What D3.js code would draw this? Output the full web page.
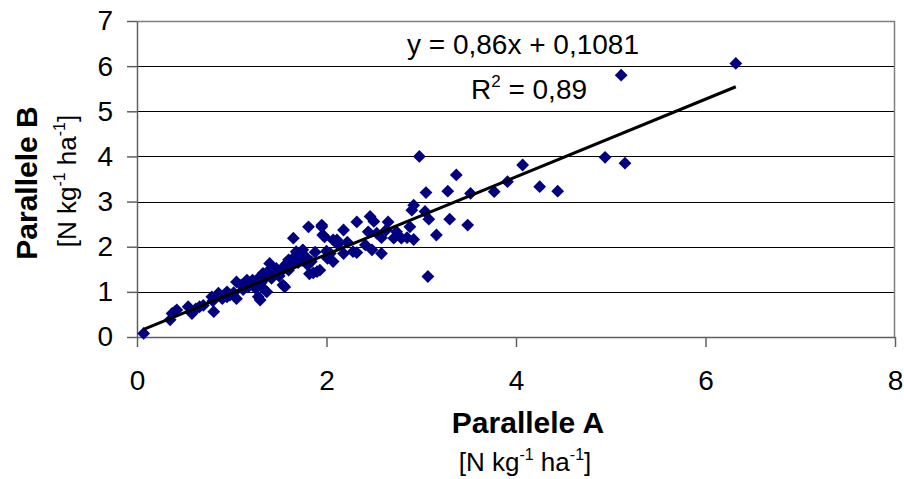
<!DOCTYPE html>
<html>
<head>
<meta charset="utf-8">
<script src="https://cdn.jsdelivr.net/npm/d3@7"></script>
<style>
  body { margin: 0; background: #fff; }
  svg text { font-family: Arial, "Liberation Sans", sans-serif; fill: #000; }
</style>
</head>
<body>
<div id="chart"></div>
<script>
/***** data *****/
// Parallele A (x) / Parallele B (y), N kg-1 ha-1
var parA = [0.07, 0.35, 0.37, 0.40, 0.42, 0.54, 0.58, 0.62, 0.66, 0.70,
  0.79, 0.81, 0.80, 0.84, 0.86, 0.90, 0.95, 0.95, 0.98, 1.02,
  1.05, 1.05, 1.10, 1.12, 1.16, 1.18, 1.22, 1.25, 1.28, 1.30,
  1.28, 1.31, 1.33, 1.33, 1.35, 1.37, 1.38, 1.40, 1.42, 1.45,
  1.47, 1.50, 1.52, 1.54, 1.56, 1.55, 1.58, 1.60, 1.60, 1.62,
  1.65, 1.65, 1.68, 1.70, 1.72, 1.75, 1.75, 1.78, 1.80, 1.81,
  1.82, 1.84, 1.86, 1.88, 1.90, 1.93, 1.95, 1.95, 1.96, 1.98,
  2.00, 2.01, 2.04, 2.07, 2.07, 2.11, 2.12, 2.18, 2.18, 2.22,
  2.28, 2.32, 2.32, 2.41, 2.46, 2.44, 2.48, 2.50, 2.53, 2.58,
  2.58, 2.65, 2.63, 2.71, 2.74, 2.79, 2.85, 2.88, 2.90, 2.92,
  2.92, 2.98, 3.05, 3.04, 3.08, 3.07, 3.16, 3.28, 3.30, 3.37,
  3.49, 3.52, 3.77, 3.91, 4.07, 4.25, 4.44, 4.94, 5.11, 5.15,
  6.32];
var parB = [0.08, 0.38, 0.52, 0.56, 0.60, 0.67, 0.52, 0.62, 0.67, 0.70,
  0.89, 0.56, 0.80, 0.92, 0.97, 0.85, 0.89, 1.00, 0.93, 0.98,
  1.22, 0.85, 1.15, 1.05, 1.26, 1.12, 1.26, 1.08, 0.89, 0.82,
  1.30, 1.20, 1.41, 1.08, 1.30, 1.00, 1.45, 1.63, 1.30, 1.40,
  1.52, 1.35, 1.45, 1.15, 1.11, 1.56, 1.63, 1.71, 1.48, 1.60,
  2.19, 1.75, 1.89, 1.65, 1.82, 1.93, 1.70, 1.78, 1.60, 2.44,
  1.40, 1.67, 1.42, 1.88, 1.45, 1.48, 2.44, 2.48, 2.26, 2.22,
  1.90, 1.74, 1.85, 1.67, 2.15, 2.15, 2.05, 2.37, 1.85, 2.10,
  1.89, 2.55, 1.87, 2.04, 2.67, 2.33, 1.93, 2.56, 2.30, 1.85,
  2.20, 2.55, 2.37, 2.19, 2.33, 2.19, 2.20, 2.44, 2.81, 2.92,
  2.16, 4.00, 3.20, 2.78, 2.61, 1.34, 2.26, 3.23, 2.61, 3.59,
  2.48, 3.18, 3.22, 3.44, 3.81, 3.33, 3.23, 3.98, 5.80, 3.85,
  6.06];

// trend line
var slope = 0.86;
var intercept = 0.1081;
var trendRange = [0.07, 6.32];
var eqLabel = "y = 0,86x + 0,1081";
var r2Value = "0,89";

var xTicks = [0, 2, 4, 6, 8];
var yTicks = [0, 1, 2, 3, 4, 5, 6, 7];

/***** chart parameters *****/
var width = 904;
var height = 479;
var margin = {top: 21, right: 9, bottom: 142, left: 137};
var plotW = width - margin.left - margin.right;
var plotH = height - margin.top - margin.bottom;

var svg = d3.select("#chart")
  .append("svg")
  .attr("width", width)
  .attr("height", height);

var g = svg.append("g")
  .attr("transform", "translate(" + margin.left + "," + margin.top + ")");

//scales
var x = d3.scaleLinear().domain([0, 8]).range([0, plotW]);
var y = d3.scaleLinear().domain([0, 7]).range([plotH, 0]);

//gridlines
g.append("g")
  .selectAll("line")
  .data(yTicks.filter(function(d){ return d > 0 && d < 7; }))
  .enter()
  .append("line")
  .attr("x1", 0)
  .attr("x2", plotW)
  .attr("y1", function(d){ return Math.round(y(d)) + 0.5; })
  .attr("y2", function(d){ return Math.round(y(d)) + 0.5; })
  .attr("stroke", "#000")
  .attr("stroke-width", 1);

//plot border top and right
g.append("path")
  .attr("d", "M0," + 0.5 + "H" + (plotW - 0.5) + "V" + plotH)
  .attr("fill", "none")
  .attr("stroke", "#808080")
  .attr("stroke-width", 1.5);

//axes
var xAxis = d3.axisBottom(x)
  .tickValues(xTicks)
  .tickFormat(d3.format("d"))
  .tickSizeInner(10)
  .tickSizeOuter(0)
  .tickPadding(23);
var yAxis = d3.axisLeft(y)
  .tickValues(yTicks)
  .tickFormat(d3.format("d"))
  .tickSizeInner(10)
  .tickSizeOuter(0)
  .tickPadding(14);

var gx = g.append("g")
  .attr("transform", "translate(0," + plotH + ")")
  .call(xAxis);
var gy = g.append("g")
  .call(yAxis);

[gx, gy].forEach(function(ax){
  ax.select(".domain").attr("stroke", "#606060").attr("stroke-width", 1.5);
  ax.selectAll(".tick line").attr("stroke", "#606060").attr("stroke-width", 1.5);
  ax.selectAll(".tick text")
    .attr("font-size", 28)
    .attr("font-family", "Arial, 'Liberation Sans', sans-serif")
    .attr("fill", "#000");
});

//points
var points = parA.map(function(d, i){ return {a: d, b: parB[i]}; });
g.append("g")
  .selectAll("path")
  .data(points)
  .enter()
  .append("path")
  .attr("d", d3.symbol().type(d3.symbolSquare).size(82))
  .attr("transform", function(d){
    return "translate(" + x(d.a) + "," + y(d.b) + ") rotate(45)";
  })
  .attr("fill", "#000080");

//trend line
var line = d3.line()
  .x(function(d){ return x(d); })
  .y(function(d){ return y(slope * d + intercept); });
g.append("path")
  .datum(trendRange)
  .attr("d", line)
  .attr("fill", "none")
  .attr("stroke", "#000")
  .attr("stroke-width", 3);

//equation
svg.append("text")
  .attr("x", 523)
  .attr("y", 54)
  .attr("text-anchor", "middle")
  .attr("font-size", 28)
  .text(eqLabel);

var r2 = svg.append("text")
  .attr("x", 529)
  .attr("y", 99)
  .attr("text-anchor", "middle")
  .attr("font-size", 28);
r2.append("tspan").text("R");
r2.append("tspan").attr("font-size", 17).attr("dy", -12).text("2");
r2.append("tspan").attr("dy", 12).text(" = " + r2Value);

//axis titles
svg.append("text")
  .attr("x", 528)
  .attr("y", 433)
  .attr("text-anchor", "middle")
  .attr("font-size", 30)
  .attr("font-weight", "bold")
  .text("Parallele A");

function unitLabel(sel){
  sel.append("tspan").text("[N kg");
  sel.append("tspan").attr("font-size", 16).attr("dy", -11).text("-1");
  sel.append("tspan").attr("dy", 11).text(" ha");
  sel.append("tspan").attr("font-size", 16).attr("dy", -11).text("-1");
  sel.append("tspan").attr("dy", 11).text("]");
}

svg.append("text")
  .attr("x", 525)
  .attr("y", 471)
  .attr("text-anchor", "middle")
  .attr("font-size", 26)
  .call(unitLabel);

svg.append("text")
  .attr("transform", "translate(37,183) rotate(-90)")
  .attr("text-anchor", "middle")
  .attr("font-size", 30)
  .attr("font-weight", "bold")
  .text("Parallele B");

svg.append("text")
  .attr("transform", "translate(76,181) rotate(-90)")
  .attr("text-anchor", "middle")
  .attr("font-size", 26)
  .call(unitLabel);
</script>
</body>
</html>
